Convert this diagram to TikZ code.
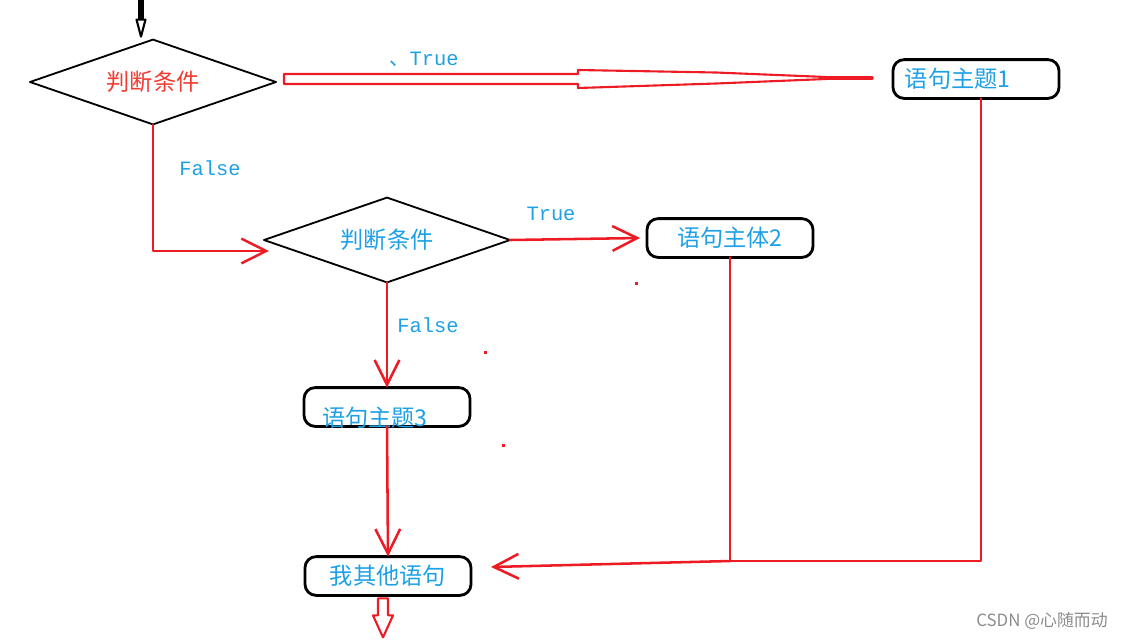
\documentclass[tikz,border=0pt]{standalone}
\usepackage{fontspec}
\setmainfont{Noto Sans CJK SC}
\newfontfamily\monofnt{Liberation Mono}
\usetikzlibrary{shapes.geometric,arrows.meta,calc}
\definecolor{paintred}{RGB}{237,28,36}
\definecolor{textblue}{RGB}{30,160,230}
\definecolor{condred}{RGB}{240,60,50}
\begin{document}
\begin{tikzpicture}[x=0.025cm,y=-0.025cm,line join=round,line cap=round,
		cond/.style={draw,shape=diamond,line width=1.3pt,minimum width=6.15cm,minimum height=2.12cm,aspect=2.9,inner sep=0pt,outer sep=0pt,font=\fontsize{16.5}{18}\selectfont},
		stmt/.style={draw,rounded corners=0.28cm,line width=2pt,minimum width=4.15cm,minimum height=0.97cm,inner sep=0pt,outer sep=0pt,text=textblue,font=\fontsize{16.5}{18}\selectfont},
		flow/.style={draw=paintred,line width=1.8pt},
		barb/.style={flow,-{Straight Barb[length=0.62cm,width=0.62cm]}},
		tf/.style={text=textblue,font=\monofnt\fontsize{14.5}{16}\selectfont}]
	\useasboundingbox (0,0) rectangle (1124,640);
	% conditions and statements
	\node[cond,text=condred] (d1) at (153,82) {判断条件};
	\node[cond,text=textblue] (d2) at (387,240) {判断条件};
	\node[stmt,text width=3.55cm,align=left,inner xsep=0.3cm] (b1) at (976,79) {语句主题1};
	\node[stmt] (b2) at (730,238) {语句主体2};
	\node[stmt] (b3) at (387,407) {};
	\node[text=textblue,font=\fontsize{16.5}{18}\selectfont] (t3) at (375,418) {语句主题3};
	\node[stmt] (b4) at (388,576) {我其他语句};
	% labels
	\node[tf] (l1) at (424,59) {{\normalfont 、}True};
	\node[tf] (l2) at (210,168) {False};
	\node[tf] (l3) at (551,214) {True};
	\node[tf] (l4) at (428,325) {False};
	% entry arrow
	\begin{scope}[shift={(d1.north)}]
		\fill (-15,-40) rectangle (-9,-20);
		\draw[line width=1.5pt] (-16.5,-20) -- (-7.5,-20) -- (-12,-3) -- cycle;
	\end{scope}
	% hollow arrow back to the first condition
	\begin{scope}[shift={(d1.east)}]
		\draw[flow,line width=1.5pt] (8,-8) -- (302,-8) -- (302,-12) -- (440,-9.5) -- (550,-5)
			-- (550,-3) -- (440,1.5) -- (302,6) -- (302,2) -- (8,2) -- cycle;
		\draw[flow,line width=2.4pt] (550,-4) -- (596,-4);
	\end{scope}
	% connectors
	\draw[barb] (d1.south) |- ($(d2.west)+(5,11)$);
	\draw[barb] (d2.east) -- ($(b2.west)+(-7,0)$);
	\draw[barb] (d2.south) -- (b3.north);
	\draw[barb] (b3.south) -- (b4.north);
	\coordinate (m) at (730,561);
	\draw[flow] ($(b1.south)+(5,0)$) |- (m);
	\draw[flow] (b2.south) -- (m);
	\draw[barb] (m) -- ($(b4.east)+(20,-9)$);
	% exit arrow
	\begin{scope}[shift={(b4.south)}]
		\draw[flow,line width=1.5pt] (-10,3) -- (0,3) -- (0,20) -- (5,20) -- (-5,42) -- (-15,20) -- (-10,20) -- cycle;
	\end{scope}
	% specks
	\fill[paintred] (635,282) rectangle +(3,3);
	\fill[paintred] (484,351) rectangle +(3,3);
	\fill[paintred] (502,444) rectangle +(3,3);
	\node[text=black!45,font=\fontsize{12}{13}\selectfont] (wm) at (1042,621) {CSDN @心随而动};
\end{tikzpicture}
\end{document}
